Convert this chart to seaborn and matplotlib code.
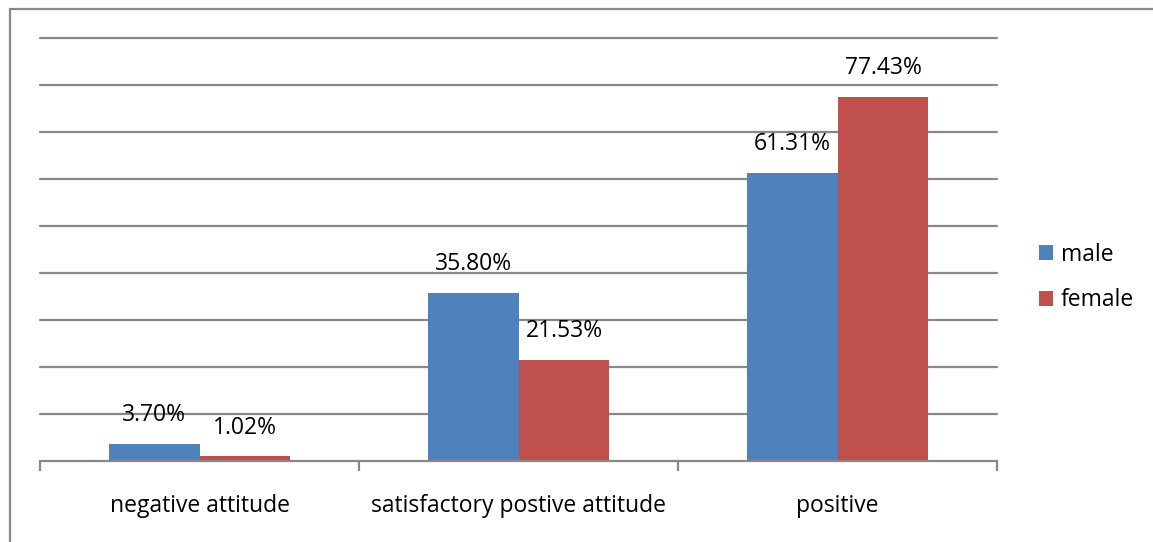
import pandas as pd
import matplotlib.pyplot as plt
import matplotlib.lines as mlines
import seaborn as sns
import numpy as np

categories = ['negative attitude', 'satisfactory postive attitude', 'positive']
male = [3.70, 35.80, 61.31]
female = [1.02, 21.53, 77.43]
series = ['male', 'female']
colors = ['#4F81BD', '#C0504D']

df = pd.DataFrame({
    'category': categories * 2,
    'gender': ['male'] * 3 + ['female'] * 3,
    'value': male + female,
})

sns.set_style('white')
plt.rcParams['font.family'] = ['Open Sans', 'DejaVu Sans']
plt.rcParams['text.color'] = 'black'

fig = plt.figure(figsize=(11.53, 5.42), dpi=100)
ax = fig.add_axes([40 / 1153, 81 / 542, 957 / 1153, 423 / 542])

sns.barplot(data=df, x='category', y='value', hue='gender', hue_order=series,
            palette=colors, width=0.57, saturation=1, ax=ax, legend=True,
            linewidth=0)

ax.set_ylim(0, 90)
ax.set_xlim(-0.5, 2.5)
ax.set_yticks(np.arange(10, 91, 10))
ax.yaxis.grid(True, color='#888888', linewidth=1.6)
for gl in ax.get_ygridlines():
    gl.set_clip_on(False)
ax.set_axisbelow(True)
ax.tick_params(axis='y', left=False, labelleft=False)
ax.set_xticks(range(3))
ax.set_xticklabels(categories, fontsize=16.5, color='black')
ax.tick_params(axis='x', which='major', length=0, pad=24)
ax.set_xticks([-0.5, 0.5, 1.5, 2.5], minor=True)
ax.tick_params(axis='x', which='minor', bottom=True, length=7, width=1.6,
               color='#888888', direction='out')
ax.set_xlabel('')
ax.set_ylabel('')
for side in ['top', 'right', 'left']:
    ax.spines[side].set_visible(False)
ax.spines['bottom'].set_color('#888888')
ax.spines['bottom'].set_linewidth(1.6)

for cont in ax.containers:
    ax.bar_label(cont, labels=[f'{v:.2f}%' for v in cont.datavalues],
                 padding=12, fontsize=16.5, color='black')

handles, labels = ax.get_legend_handles_labels()
ax.legend(handles, labels, loc='center left', bbox_to_anchor=(1.044, 0.434),
          frameon=False, fontsize=16.5, handlelength=0.6, handleheight=0.6,
          handletextpad=0.35, labelspacing=0.95, borderpad=0, borderaxespad=0)

# outer frame (left and top only)
fig.add_artist(mlines.Line2D([9.5 / 1153, 9.5 / 1153], [0, 1 - 8.5 / 542],
                             transform=fig.transFigure, color='#888888', linewidth=1.6))
fig.add_artist(mlines.Line2D([9.5 / 1153, 1], [1 - 8.5 / 542, 1 - 8.5 / 542],
                             transform=fig.transFigure, color='#888888', linewidth=1.6))

fig.savefig('out.png', dpi=100)
